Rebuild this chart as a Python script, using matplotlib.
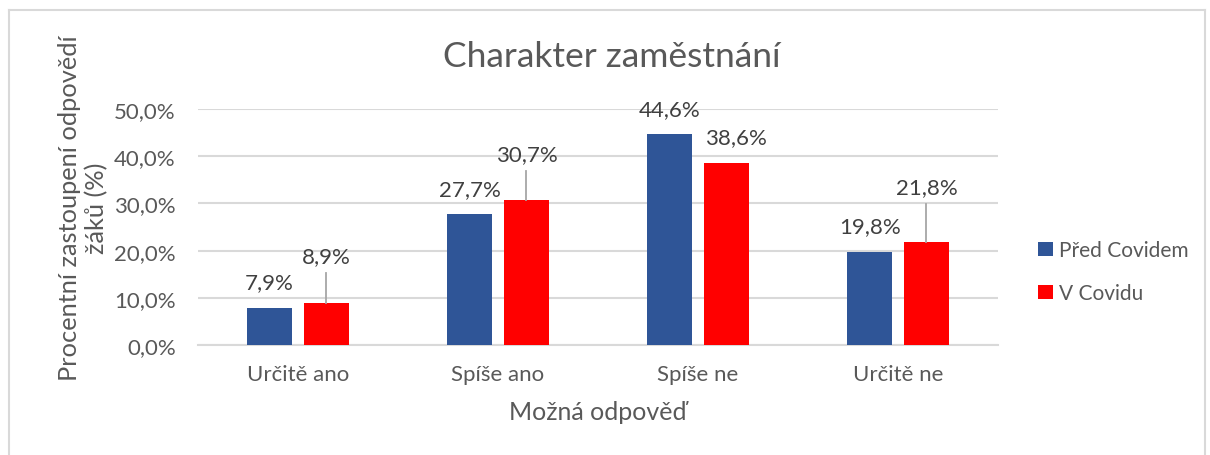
import matplotlib.pyplot as plt
from matplotlib.lines import Line2D
import numpy as np

categories = ["Určitě ano", "Spíše ano", "Spíše ne", "Určitě ne"]
pred_covidem = [7.9, 27.7, 44.6, 19.8]
v_covidu = [8.9, 30.7, 38.6, 21.8]
series_names = ["Před Covidem", "V Covidu"]

# how far the red labels were dragged above their bars (0 = default spot)
red_label_lift = [10.0, 9.8, 0, 11.7]
red_label_shift = [0, 0, 0.05, 0]

plt.rcParams['font.family'] = ['Lato', 'DejaVu Sans']
TXT = "#595959"
LBL = "#404040"
GRID = "#D9D9D9"
BLUE = "#2F5597"
RED = "#FF0000"

fig = plt.figure(figsize=(12.1, 4.56), dpi=100)
ax = fig.add_axes([198/1210, 1-346/456, 800/1210, 236/456])

x = np.arange(len(categories))
w = 0.222
off = 0.142
b1 = ax.bar(x - off, pred_covidem, w, color=BLUE, label=series_names[0], zorder=3)
b2 = ax.bar(x + off, v_covidu, w, color=RED, label=series_names[1], zorder=3)

ax.set_xlim(-0.5, len(categories) - 0.5)
ax.set_ylim(0, 50)
ax.set_yticks(np.arange(0, 51, 10))
ax.set_yticklabels([f"{v:.1f}%".replace(".", ",") for v in np.arange(0, 51, 10)])
ax.set_xticks(x)
ax.set_xticklabels(categories)
ax.tick_params(length=0, labelsize=16, colors=TXT)
ax.tick_params(axis='y', pad=16)
ax.tick_params(axis='x', pad=14)
ax.grid(axis='y', color=GRID, linewidth=1.5, zorder=0)
for s in ["top", "right", "left"]:
    ax.spines[s].set_visible(False)
ax.spines["bottom"].set_color(GRID)
ax.spines["bottom"].set_linewidth(1.5)

def fmt(v):
    return f"{v:.1f}%".replace(".", ",")

for xi, v in zip(x, pred_covidem):
    ax.text(xi - off, v + 5.4, fmt(v), ha="center", va="center", fontsize=16, color=LBL)
for xi, v, lift, sh in zip(x, v_covidu, red_label_lift, red_label_shift):
    ly = v + 5.4 + (lift - 5.4 if lift else 0)
    ax.text(xi + off + sh, ly, fmt(v), ha="center", va="center", fontsize=16, color=LBL)
    if lift:
        ax.plot([xi + off, xi + off], [v, ly - 3.6], color="#A6A6A6", linewidth=1.3, zorder=4)

ax.set_xlabel("Možná odpověď", fontsize=18, color=TXT, labelpad=11)
ax.set_ylabel("Procentní zastoupení odpovědí\nžáků (%)", fontsize=18.3, color=TXT)
ax.yaxis.set_label_coords(-0.1125, 0.585)

fig.text(612/1210, 1-57/456, "Charakter zaměstnání", ha="center", va="center", fontsize=25.5, color=TXT)

leg = ax.legend(loc="center left", bbox_to_anchor=(1.05, 0.31), frameon=False, borderpad=0,
                borderaxespad=0, fontsize=15, labelcolor=TXT, handlelength=0.7,
                handleheight=0.7, handletextpad=0.3, labelspacing=1.1)

# chart border
for xs, ys in [([9/1210, 9/1210], [0, 1-11/456]),
               ([9/1210, 1205/1210], [1-11/456, 1-11/456]),
               ([1205/1210, 1205/1210], [0, 1-11/456])]:
    fig.add_artist(Line2D(xs, ys, color=GRID, linewidth=1.5))

fig.savefig("out.png", dpi=100)
